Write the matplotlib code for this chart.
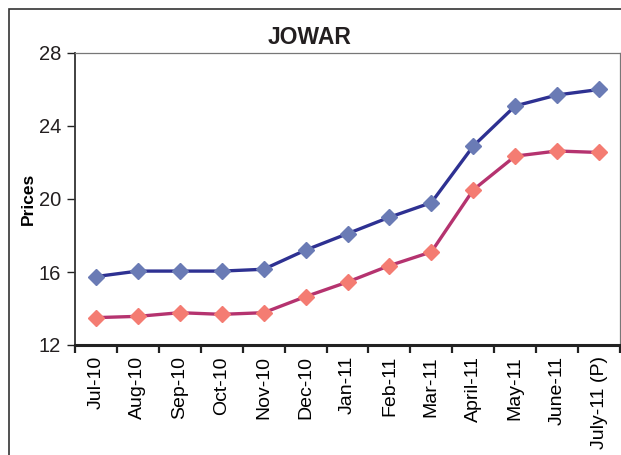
import matplotlib
matplotlib.use("Agg")
import matplotlib.pyplot as plt
from matplotlib.patches import Rectangle

plt.rcParams["font.family"] = ["Liberation Sans", "DejaVu Sans"]

# ── Data ────────────────────────────────────────────────────────────────
months = ["Jul-10", "Aug-10", "Sep-10", "Oct-10", "Nov-10", "Dec-10",
          "Jan-11", "Feb-11", "Mar-11", "April-11", "May-11", "June-11",
          "July-11 (P)"]
upper_prices = [15.75, 16.05, 16.05, 16.05, 16.15, 17.2, 18.1, 19.0,
                19.8, 22.9, 25.1, 25.7, 26.0]
lower_prices = [13.5, 13.57, 13.77, 13.68, 13.77, 14.65, 15.45, 16.35,
                17.1, 20.5, 22.35, 22.63, 22.55]
y_ticks = [12, 16, 20, 24, 28]

W, H = 621, 455
fig = plt.figure(figsize=(W / 100, H / 100), dpi=100)
fig.patch.set_facecolor("white")

# outer frame (cropped at right and bottom)
fig.patches.append(Rectangle((9 / W, -0.1), 1.2, (H - 9) / H + 0.1,
                             transform=fig.transFigure, fill=False,
                             edgecolor="#333333", linewidth=1.2))

ax = fig.add_axes([75 / W, 1 - 345 / H, 545 / W, 292 / H])
x = range(len(months))

ax.plot(x, upper_prices, color="#2E3192", linewidth=2.4, marker="D",
        markersize=8.5, markerfacecolor="#6A7BB5", markeredgecolor="#6A7BB5",
        zorder=3)
ax.plot(x, lower_prices, color="#B5336F", linewidth=2.4, marker="D",
        markersize=8.5, markerfacecolor="#F47C72", markeredgecolor="#F47C72",
        zorder=3)

ax.set_xlim(-0.5, len(months) - 0.5)
ax.set_ylim(12, 28)
ax.set_yticks(y_ticks)
ax.set_xticks([i - 0.5 for i in range(len(months) + 1)], minor=False)
ax.set_xticklabels([])
ax.set_xticks(list(x), minor=True)
ax.set_xticklabels(months, minor=True, rotation=90, fontsize=14)
ax.tick_params(axis="x", which="minor", length=0, pad=8)
ax.tick_params(axis="x", which="major", length=6, width=1.6,
               color="#222222", direction="out")
ax.tick_params(axis="y", length=6, width=1, color="#222222",
               labelsize=14.5, pad=4, labelcolor="#231F20")

for side in ("top", "right"):
    ax.spines[side].set_color("#777777")
    ax.spines[side].set_linewidth(0.9)
ax.spines["left"].set_color("#333333")
ax.spines["left"].set_linewidth(1.3)
ax.spines["bottom"].set_color("#222222")
ax.spines["bottom"].set_linewidth(2.2)

ax.set_ylabel("Prices", fontsize=12.5, fontweight="bold", labelpad=2)
fig.text(310 / W, 1 - 37 / H, "JOWAR", ha="center", va="center",
         fontsize=16.5, fontweight="bold", color="#231F20")

fig.savefig("out.png", dpi=100, facecolor="white")
